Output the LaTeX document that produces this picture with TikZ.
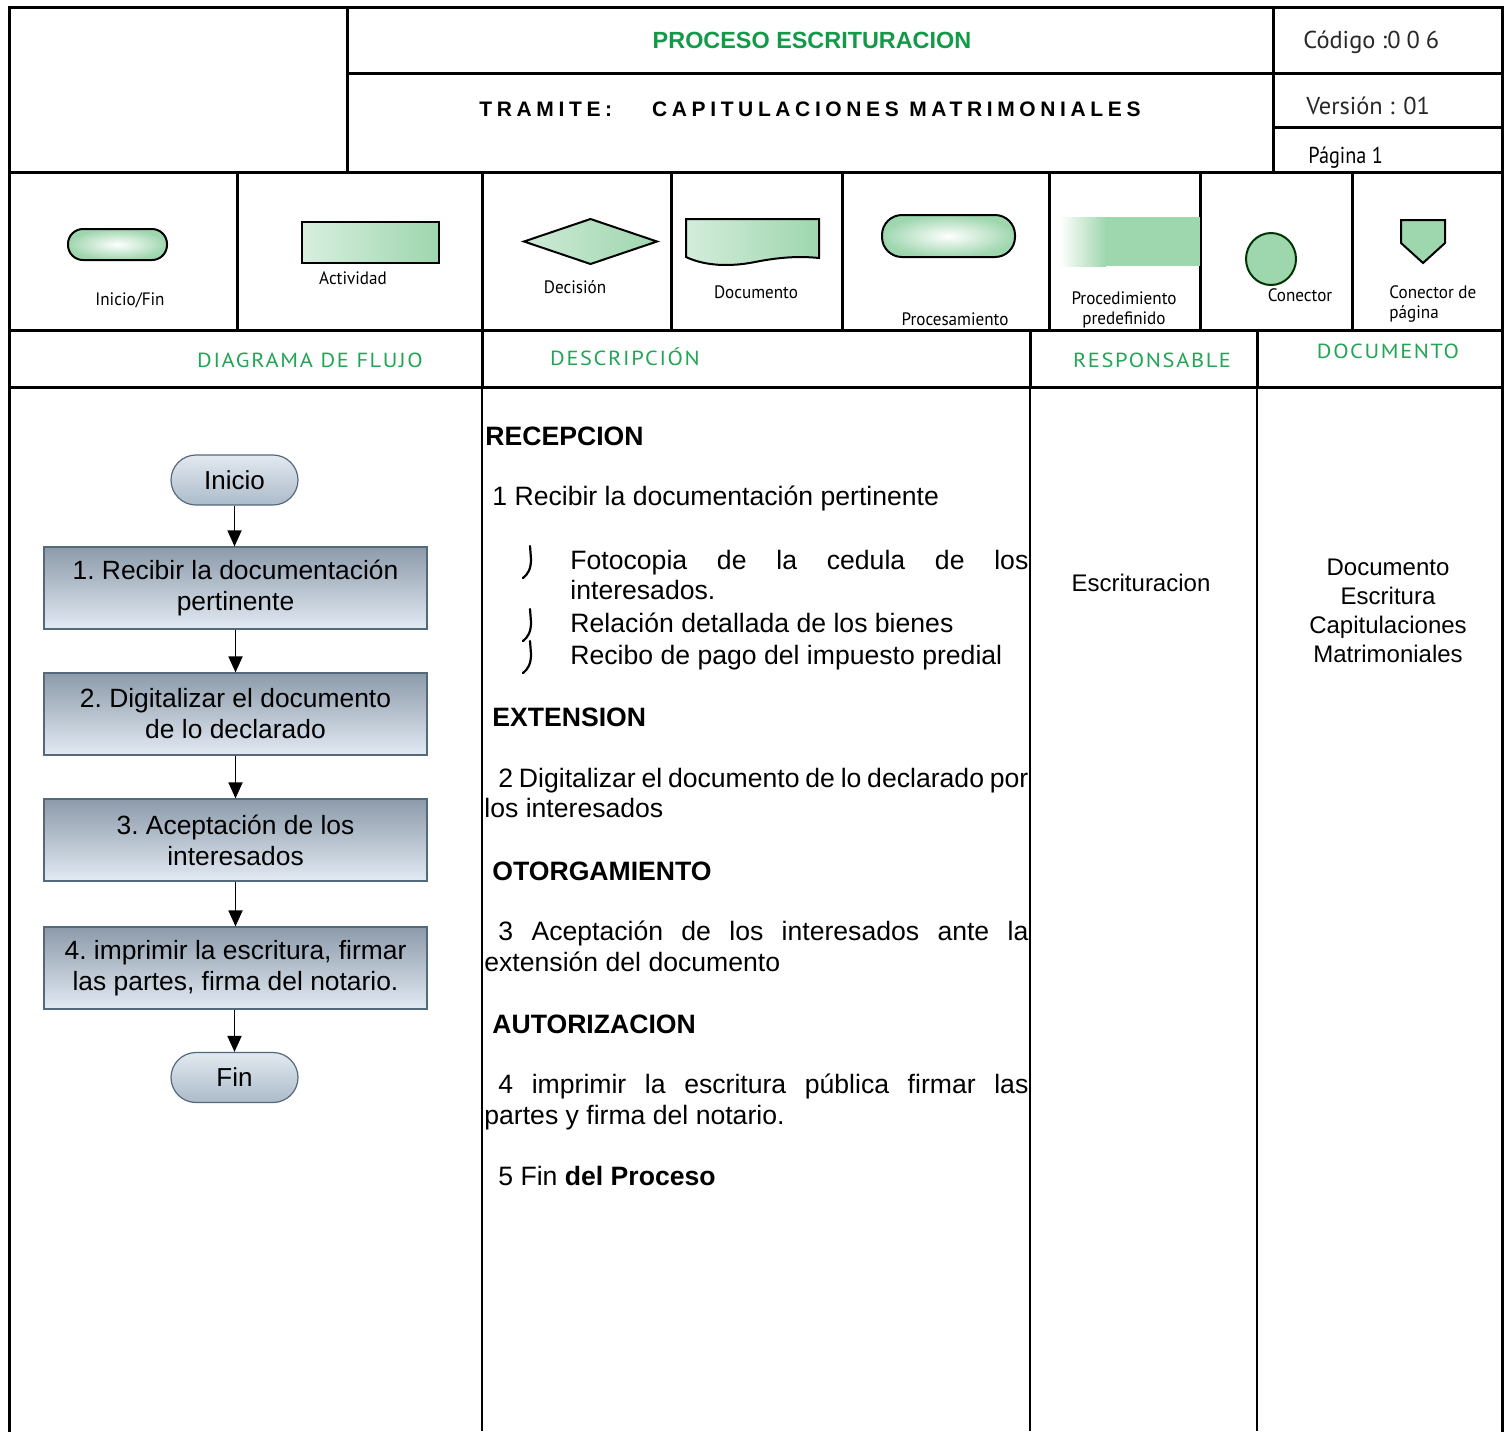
\documentclass[tikz,border=0pt]{standalone}
\usepackage{fontspec}
\setmainfont{Liberation Sans}
\newfontfamily\condf[FakeStretch=0.88]{PT Sans}
\newfontfamily\widef[FakeStretch=1.0]{PT Sans}
\newfontfamily\legf[FakeStretch=0.95]{PT Sans}
\newfontfamily\hdrf[LetterSpace=8,FakeStretch=1.1]{PT Sans}
\newfontfamily\tramf[LetterSpace=22]{Liberation Sans}
\usetikzlibrary{arrows.meta}
\definecolor{lg}{RGB}{158,214,174}
\definecolor{titlegreen}{RGB}{18,154,72}
\definecolor{hdrgreen}{RGB}{34,165,85}
\definecolor{boxtop}{RGB}{140,154,170}
\definecolor{boxbot}{RGB}{226,234,243}
\definecolor{boxline}{RGB}{85,105,125}
\definecolor{termtop}{RGB}{226,233,240}
\definecolor{termbot}{RGB}{172,187,202}
\definecolor{condgray}{RGB}{40,40,40}
\tikzset{
  frame/.style={line width=1.5pt, line cap=rect},
  thinframe/.style={line width=1pt},
  flowbox/.style={draw=boxline, line width=0.6pt, top color=boxtop, bottom color=boxbot,
    minimum width=191.5pt, minimum height=41pt, align=center,
    font=\frenchspacing\fontsize{13.2}{15.5}\selectfont, inner sep=1pt},
  term/.style={draw=boxline, line width=0.6pt, top color=termtop, bottom color=termbot,
    rounded corners=12.5pt, minimum width=63.5pt, minimum height=25pt,
    font=\fontsize{13}{15}\selectfont, inner sep=1pt},
  arr/.style={line width=0.9pt, -{Triangle[width=7pt,length=8pt]}},
  desc/.style={anchor=base west, inner sep=0pt, font=\frenchspacing\fontsize{13.3}{15.3}\selectfont},
  descb/.style={anchor=base west, inner sep=0pt, font=\fontsize{13.3}{15.3}\selectfont\bfseries},
  legtext/.style={anchor=base, inner sep=0pt, font=\legf\fontsize{9}{10.5}\selectfont},
  colhdr/.style={anchor=base, inner sep=0pt, text=hdrgreen, font=\hdrf\fontsize{10.2}{12}\selectfont},
  cond/.style={anchor=base west, inner sep=0pt, text=condgray, font=\widef\fontsize{12.2}{14}\selectfont},
  bul/.style={line width=1.1pt, line cap=round},
  legshape/.style={line width=1pt, draw=black}
}
\begin{document}
\begin{tikzpicture}[x=0.5pt,y=-0.5pt]
\useasboundingbox (0,0) rectangle (1507,1431);
\fill[white] (0,0) rectangle (1507,1431);

% ---------- frame ----------
\draw[frame] (9,1431) -- (9,7) -- (1502,7) -- (1502,1431);
\draw[frame] (347,7) -- (347,172);
\draw[frame] (347,73) -- (1502,73);
\draw[frame] (1273,7) -- (1273,172);
\draw[frame] (1273,127) -- (1502,127);
\draw[frame] (9,172) -- (1502,172);
\foreach \x in {237,482,671,842,1049,1200,1352} \draw[frame] (\x,172) -- (\x,330);
\draw[frame] (9,330) -- (1502,330);
\draw[frame] (1030,330) -- (1030,387);
\draw[frame] (1257,330) -- (1257,387);
\draw[frame] (482,330) -- (482,387);
\draw[frame] (9,387) -- (1502,387);
\draw[thinframe] (482,387) -- (482,1431);
\draw[thinframe] (1030,387) -- (1030,1431);
\draw[thinframe] (1257,387) -- (1257,1431);

% ---------- header ----------
\node[inner sep=0pt, text=titlegreen, font=\fontsize{11.7}{14}\selectfont\bfseries] (title) at (812,40) {PROCESO ESCRITURACION};
\node[inner sep=0pt, font=\tramf\fontsize{10.5}{12}\selectfont\bfseries] (tramite) at (810,109) {TRAMITE:\hspace{20pt}CAPITULACIONES MATRIMONIALES};
\node[cond] (codigo) at (1303,48) {Código :0\hspace{3pt}0\hspace{3pt}6};
\node[cond] (version) at (1306,114) {Versión : 01};
\node[cond, text=black, font=\condf\fontsize{11.5}{13}\selectfont] (pagina) at (1308,163) {Página 1};

% ---------- legend ----------
\shadedraw[legshape, inner color=white, outer color=lg, rounded corners=7.5pt] (68,229) rectangle (167,260);
\node[legtext] (l1) at (130,305) {Inicio/Fin};
\shadedraw[legshape, left color=white!60!lg, right color=lg] (302,222) rectangle (439,263);
\node[legtext] (l2) at (353,284) {Actividad};
\shadedraw[legshape, left color=white!50!lg, right color=lg] (524,241.5) -- (590.5,219) -- (657,241.5) -- (590.5,264) -- cycle;
\node[legtext] (l3) at (575,293) {Decisión};
\shadedraw[legshape, left color=white!55!lg, right color=lg] (686,219) -- (819,219) -- (819,258)
  .. controls (800,256) and (780,257) .. (755,262) .. controls (730,267) and (705,266) .. (686,257) -- cycle;
\node[legtext] (l4) at (756,298) {Documento};
\shadedraw[legshape, inner color=white, outer color=lg, rounded corners=10pt] (882,215) rectangle (1015,257);
\node[legtext] (l5) at (955,325) {Procesamiento};
\shade[left color=white, right color=lg] (1060,217) rectangle (1106,266);
\fill[lg] (1105,217) rectangle (1200,266);
\node[legtext] (l6a) at (1124,304) {Procedimiento};
\node[legtext] (l6b) at (1124,324) {predefinido};
\filldraw[fill=lg, draw=black!80!green, line width=1pt] (1271,259) ellipse [x radius=25, y radius=26];
\node[legtext] (l7) at (1300,301) {Conector};
\filldraw[legshape, fill=lg] (1401,220) -- (1445,220) -- (1445,243) -- (1423,263) -- (1401,243) -- cycle;
\node[legtext, anchor=base west] (l8a) at (1389,298) {Conector de};
\node[legtext, anchor=base west] (l8b) at (1389,318) {página};

% ---------- column headers ----------
\node[colhdr] (h1) at (310,367) {DIAGRAMA DE FLUJO};
\node[colhdr] (h2) at (625,365) {DESCRIPCIÓN};
\node[colhdr] (h3) at (1152,367) {RESPONSABLE};
\node[colhdr] (h4) at (1388,358) {DOCUMENTO};

% ---------- flowchart ----------
\node[term] (inicio) at (234.5,480) {Inicio};
\node[flowbox] (b1) at (235.5,588) {1. Recibir la documentación\\pertinente};
\node[flowbox] (b2) at (235.5,714) {2. Digitalizar el documento\\de lo declarado};
\node[flowbox] (b3) at (235.5,840) {3. Aceptación de los\\interesados};
\node[flowbox] (b4) at (235.5,968) {4. imprimir la escritura, firmar\\las partes, firma del notario.};
\node[term] (fin) at (234.5,1077.5) {Fin};
\draw[arr] (inicio.south) -- (inicio.south |- b1.north);
\draw[arr] (b1.south) -- (b2.north);
\draw[arr] (b2.south) -- (b3.north);
\draw[arr] (b3.south) -- (b4.north);
\draw[arr] (b4.south -| fin) -- (fin.north);

% ---------- description ----------
\node[descb] (d1) at (485,445) {RECEPCION};
\node[desc] (d2) at (492,505) {1 Recibir la documentación pertinente};
\node[desc] (d3) at (570,569) {\makebox[229pt][s]{Fotocopia de la cedula de los}};
\node[desc] (d4) at (570,599) {interesados.};
\node[desc] (d5) at (570,632) {Relación detallada de los bienes};
\node[desc] (d6) at (570,664) {Recibo de pago del impuesto predial};
\foreach \b in {569,632,664}
  \draw[bul] (530,\b-23) -- (531,\b-10) .. controls (531,\b) and (528,\b+5) .. (523,\b+9);
\node[descb] (d7) at (492,726) {EXTENSION};
\node[desc] (d8) at (498,787) {\makebox[265pt][s]{2 Digitalizar el documento de lo declarado por}};
\node[desc] (d9) at (484,817) {los interesados};
\node[descb] (d10) at (492,880) {OTORGAMIENTO};
\node[desc] (d11) at (498,940) {\makebox[265pt][s]{3 Aceptación de los interesados ante la}};
\node[desc] (d12) at (484,971) {extensión del documento};
\node[descb] (d13) at (492,1033) {AUTORIZACION};
\node[desc] (d14) at (498,1093) {\makebox[265pt][s]{4 imprimir la escritura pública firmar las}};
\node[desc] (d15) at (484,1124) {partes y firma del notario.};
\node[desc] (d16) at (498,1185) {5 Fin \textbf{del Proceso}};

% ---------- responsable / documento ----------
\node[anchor=base, inner sep=0pt, font=\fontsize{12}{14}\selectfont] (resp) at (1141,591) {Escrituracion};
\node[anchor=base, inner sep=0pt, font=\fontsize{12}{14}\selectfont] (doc1) at (1388,575) {Documento};
\node[anchor=base, inner sep=0pt, font=\fontsize{12}{14}\selectfont] (doc2) at (1388,604) {Escritura};
\node[anchor=base, inner sep=0pt, font=\fontsize{12}{14}\selectfont] (doc3) at (1388,633) {Capitulaciones};
\node[anchor=base, inner sep=0pt, font=\fontsize{12}{14}\selectfont] (doc4) at (1388,662) {Matrimoniales};
\end{tikzpicture}
\end{document}
